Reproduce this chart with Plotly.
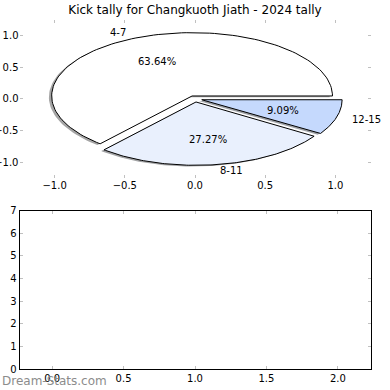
import numpy as np
import plotly.graph_objects as go

# ---- data ----
labels = ["4-7", "8-11", "12-15"]
values = [7, 3, 1]
slice_colors = ["#ffffff", "#e9f0fd", "#c5d9fd"]
explode = [0.05, 0.05, 0.05]
title = "Kick tally for Changkuoth Jiath - 2024 tally"
pie_ticks = [-1.0, -0.5, 0.0, 0.5, 1.0]
bar_xticks = [0.0, 0.5, 1.0, 1.5, 2.0]
bar_yticks = [0, 1, 2, 3, 4, 5, 6, 7]
watermark = "Dream-Stats.com"

FONT = "DejaVu Sans"


def fmt(v):
    s = f"{v:.1f}"
    return s.replace("-", "\u2212")


fig = go.Figure()

total = float(sum(values))
fracs = [v / total for v in values]

# compute wedge geometry (matplotlib-like: start angle 0, counterclockwise)
wedges = []
theta1 = 0.0
for i, f in enumerate(fracs):
    theta2 = theta1 + f * 360.0
    thetam = np.deg2rad((theta1 + theta2) / 2.0)
    cx = explode[i] * np.cos(thetam)
    cy = explode[i] * np.sin(thetam)
    t = np.deg2rad(np.linspace(theta1, theta2, 120))
    xs = np.concatenate([[cx], cx + np.cos(t), [cx]])
    ys = np.concatenate([[cy], cy + np.sin(t), [cy]])
    wedges.append((xs, ys, cx, cy, thetam))
    theta1 = theta2

# shadows first
for i, (xs, ys, cx, cy, thetam) in enumerate(wedges):
    rgb = np.array([int(slice_colors[i][k:k + 2], 16) for k in (1, 3, 5)]) * 0.3
    fig.add_trace(go.Scatter(
        x=xs - 0.02, y=ys - 0.02, mode="lines", fill="toself",
        fillcolor=f"rgba({int(rgb[0])},{int(rgb[1])},{int(rgb[2])},0.5)",
        line=dict(width=0, color="rgba(0,0,0,0)"),
        hoverinfo="skip", showlegend=False, xaxis="x", yaxis="y"))

for i, (xs, ys, cx, cy, thetam) in enumerate(wedges):
    fig.add_trace(go.Scatter(
        x=xs, y=ys, mode="lines", fill="toself",
        fillcolor=slice_colors[i],
        line=dict(width=1, color="black"),
        hoverinfo="skip", showlegend=False, xaxis="x", yaxis="y"))

annotations = []
for i, (xs, ys, cx, cy, thetam) in enumerate(wedges):
    lx = cx + 1.1 * np.cos(thetam)
    ly = cy + 1.1 * np.sin(thetam)
    annotations.append(dict(
        x=lx, y=ly, xref="x", yref="y", text=labels[i], showarrow=False,
        xanchor="left" if lx > 0 else "right", yanchor="middle",
        font=dict(family=FONT, size=10, color="black")))
    px = cx + 0.6 * np.cos(thetam)
    py = cy + 0.6 * np.sin(thetam)
    annotations.append(dict(
        x=px, y=py, xref="x", yref="y", text=f"{fracs[i] * 100:.2f}%",
        showarrow=False, xanchor="center", yanchor="middle",
        font=dict(family=FONT, size=10, color="black")))

annotations.append(dict(
    x=0.0, y=1 - 381 / 390, xref="paper", yref="paper", text=watermark,
    showarrow=False, xanchor="left", yanchor="middle",
    font=dict(family=FONT, size=12, color="#8c8c8c")))

# empty bottom axes needs a trace to appear
fig.add_trace(go.Scatter(x=[None], y=[None], mode="markers", xaxis="x2",
                         yaxis="y2", showlegend=False, hoverinfo="skip"))

tickstyle = dict(ticks="inside", ticklen=3, tickwidth=1, tickcolor="#c0c0c0",
                 showgrid=False, zeroline=False, automargin=False,
                 tickfont=dict(family=FONT, size=10, color="black"))

xd = [19.5 / 390, 370.5 / 390]
fig.update_layout(
    width=390, height=390,
    margin=dict(l=0, r=0, t=0, b=0, autoexpand=False),
    paper_bgcolor="white", plot_bgcolor="white",
    title=dict(text=title, x=0.5, xanchor="center", y=1 - 10 / 390,
               yanchor="middle", automargin=False,
               font=dict(family=FONT, size=12, color="black")),
    xaxis=dict(domain=xd, range=[-1.25, 1.25], anchor="y",
               tickvals=pie_ticks, ticktext=[fmt(v) for v in pie_ticks],
               showline=False, mirror="allticks", **tickstyle),
    yaxis=dict(domain=[1 - 178 / 390, 1 - 19.7 / 390], range=[-1.25, 1.25],
               anchor="x", tickvals=pie_ticks,
               ticktext=[fmt(v) for v in pie_ticks],
               showline=False, mirror="allticks", **tickstyle),
    xaxis2=dict(domain=xd, range=[-0.228, 2.228], anchor="y2",
                tickvals=bar_xticks, ticktext=[fmt(v) for v in bar_xticks],
                showline=True, linecolor="black", linewidth=1,
                mirror="allticks", **tickstyle),
    yaxis2=dict(domain=[1 - 369 / 390, 1 - 210.5 / 390], range=[0, 7],
                anchor="x2", tickvals=bar_yticks,
                ticktext=[str(v) for v in bar_yticks],
                showline=True, linecolor="black", linewidth=1,
                mirror="allticks", **tickstyle),
    annotations=annotations,
)

fig.write_html(
    "out.html",
    config={"displayModeBar": False, "staticPlot": True},
    post_script="document.body.style.margin='0';document.body.style.padding='0';"
                "document.body.style.overflow='hidden';",
)
